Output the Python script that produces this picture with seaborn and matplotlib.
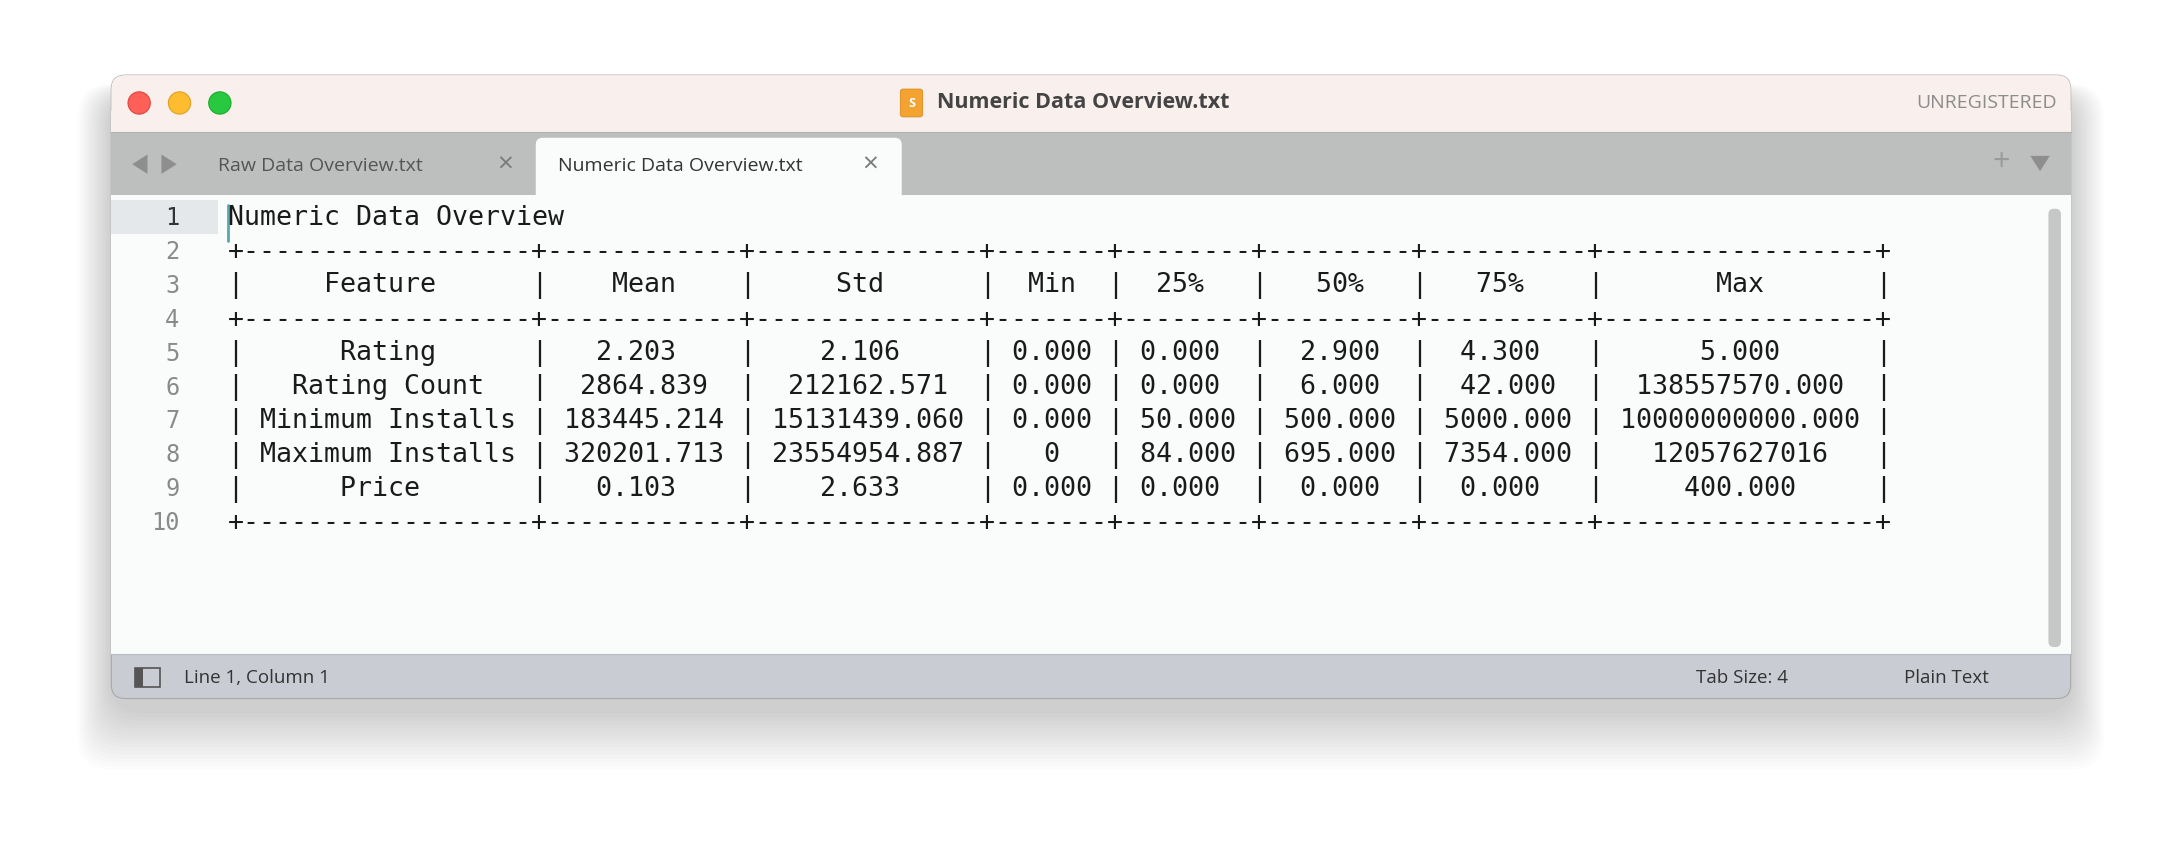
import matplotlib
matplotlib.use("Agg")
import matplotlib.pyplot as plt
import seaborn as sns
from matplotlib.patches import FancyBboxPatch, Rectangle, Circle, Polygon

sns.set_style("white")
plt.rcParams['font.family'] = ['Open Sans', 'DejaVu Sans']

# table data
headers = ["Feature", "Mean", "Std", "Min", "25%", "50%", "75%", "Max"]
features = ["Rating", "Rating Count", "Minimum Installs", "Maximum Installs", "Price"]
mean_vals = ["2.203", "2864.839", "183445.214", "320201.713", "0.103"]
std_vals = ["2.106", "212162.571", "15131439.060", "23554954.887", "2.633"]
min_vals = ["0.000", "0.000", "0.000", "0", "0.000"]
q25_vals = ["0.000", "0.000", "50.000", "84.000", "0.000"]
q50_vals = ["2.900", "6.000", "500.000", "695.000", "0.000"]
q75_vals = ["4.300", "42.000", "5000.000", "7354.000", "0.000"]
max_vals = ["5.000", "138557570.000", "10000000000.000", "12057627016", "400.000"]
col_widths = [18, 12, 14, 7, 8, 9, 10, 17]

columns = [features, mean_vals, std_vals, min_vals, q25_vals, q50_vals, q75_vals, max_vals]
sep = "+" + "+".join("-" * w for w in col_widths) + "+"
def row(cells):
    return "|" + "|".join(c.center(w) for c, w in zip(cells, col_widths)) + "|"
lines = ["Numeric Data Overview", sep, row(headers), sep]
for i in range(len(features)):
    lines.append(row([col[i] for col in columns]))
lines.append(sep)

W, H = 1568, 609.4
fig = plt.figure(figsize=(21.82, 8.48), dpi=100)
ax = fig.add_axes([0, 0, 1, 1])
ax.set_xlim(0, W)
ax.set_ylim(H, 0)
ax.axis("off")

# soft shadow, mostly below the window
for k in range(16):
    pad = 3 + k * 3
    ax.add_patch(FancyBboxPatch((80 - pad * 0.5, 70 - pad * 0.2), 1408 + pad * 1.0, 440 + pad * 1.1,
                                boxstyle="round,pad=0,rounding_size=24", fc="black", ec="none",
                                alpha=0.012, zorder=0))
# window
ax.add_patch(FancyBboxPatch((80, 54), 1408, 448, boxstyle="round,pad=0,rounding_size=10",
                            fc="#c9ccd3", ec="#a9a9a9", lw=0.8, zorder=1))
ax.add_patch(FancyBboxPatch((80, 54), 1408, 41, boxstyle="round,pad=0,rounding_size=10",
                            fc="#f9efec", ec="none", zorder=2))
ax.add_patch(Rectangle((80, 80), 1408, 15, fc="#f9efec", ec="none", zorder=2))
ax.add_patch(Rectangle((80, 95), 1408, 45, fc="#bdbfbe", ec="none", zorder=2))
ax.add_patch(Rectangle((80, 140), 1408, 330, fc="#fafcfc", ec="none", zorder=2))
ax.plot([80, 1488], [95, 95], color="#b0b0b0", lw=0.8, zorder=3)
ax.plot([80, 1488], [470, 470], color="#b8bcc4", lw=0.8, zorder=3)
# active tab
ax.add_patch(FancyBboxPatch((385, 99), 263, 45, boxstyle="round,pad=0,rounding_size=5",
                            fc="#fafcfc", ec="none", zorder=3))
# gutter line highlight
ax.add_patch(Rectangle((80, 144), 77, 24, fc="#e4e8ea", ec="none", zorder=3))
ax.plot([164, 164], [147, 173], color="#5aa7b0", lw=2, zorder=5)
# scrollbar
ax.add_patch(FancyBboxPatch((1472, 150), 9, 315, boxstyle="round,pad=0,rounding_size=4",
                            fc="#c6c7c7", ec="none", zorder=3))

# traffic lights
for x, c, e in [(100, "#fe5f57", "#e0443e"), (129, "#febc2e", "#dea123"), (158, "#28c840", "#1aab29")]:
    ax.add_patch(Circle((x, 74), 8, fc=c, ec=e, lw=0.8, zorder=4))

# title
ax.add_patch(FancyBboxPatch((647, 64), 16, 20, boxstyle="round,pad=0,rounding_size=2",
                            fc="#f4a330", ec="#d98a1e", lw=0.6, zorder=4))
ax.text(655, 74.5, "S", ha="center", va="center", fontsize=9, color="white", weight="bold", zorder=5)
ax.text(673, 74, "Numeric Data Overview.txt", ha="left", va="center", fontsize=15.5,
        weight="bold", color="#444444", zorder=5)
ax.text(1478, 74, "UNREGISTERED", ha="right", va="center", fontsize=14, color="#8c8c8c", zorder=5)

# tab bar
ax.add_patch(Polygon([[106, 111], [106, 125], [95, 118]], fc="#8e8e8e", ec="none", zorder=4))
ax.add_patch(Polygon([[116, 111], [116, 125], [127, 118]], fc="#8e8e8e", ec="none", zorder=4))
ax.text(157, 119, "Raw Data Overview.txt", ha="left", va="center", fontsize=14, color="#555555", zorder=5)
ax.text(363, 119, "×", ha="center", va="center", fontsize=20, color="#7a7a7a", zorder=5)
ax.text(401, 119, "Numeric Data Overview.txt", ha="left", va="center", fontsize=14, color="#333333", zorder=5)
ax.text(625, 119, "×", ha="center", va="center", fontsize=20, color="#7a7a7a", zorder=5)
ax.text(1438, 117, "+", ha="center", va="center", fontsize=22, color="#9a9a9a", zorder=5)
ax.add_patch(Polygon([[1459, 112], [1473, 112], [1466, 123]], fc="#8e8e8e", ec="none", zorder=4))

# content
for i, s in enumerate(lines):
    y = 156.5 + i * 24.4
    ax.text(164, y, s, ha="left", va="center", family="DejaVu Sans Mono", fontsize=19.2,
            color="#1a1a1a", zorder=5)
for i in range(len(lines)):
    y = 156.5 + i * 24.4
    ax.text(129, y, str(i + 1), ha="right", va="center", family="DejaVu Sans Mono", fontsize=17,
            color="#333333" if i == 0 else "#8a8a8a", zorder=5)

# status bar
ax.add_patch(Rectangle((97, 480), 18, 14, fc="none", ec="#555555", lw=1.2, zorder=4))
ax.add_patch(Rectangle((97, 480), 6, 14, fc="#555555", ec="none", zorder=4))
ax.text(132, 487, "Line 1, Column 1", ha="left", va="center", fontsize=13.5, color="#333333", zorder=5)
ax.text(1219, 487, "Tab Size: 4", ha="left", va="center", fontsize=13.5, color="#333333", zorder=5)
ax.text(1368, 487, "Plain Text", ha="left", va="center", fontsize=13.5, color="#333333", zorder=5)

fig.savefig("out.png", dpi=100, facecolor="white")
